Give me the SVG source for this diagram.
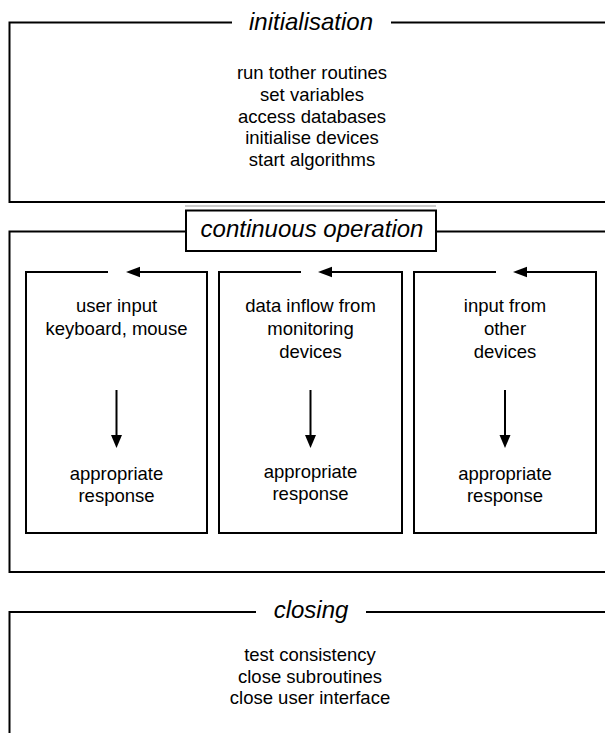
<svg xmlns="http://www.w3.org/2000/svg" width="605" height="733" viewBox="0 0 605 733">
<style>
  .frame { fill: none; stroke: #000; stroke-width: 2; }
  .title { font-family: "Liberation Sans", Arial, sans-serif; font-size: 24px; font-style: italic; fill: #000; text-anchor: middle; }
  .body { font-family: "Liberation Sans", Arial, sans-serif; font-size: 18.5px; fill: #000; text-anchor: middle; }
  .arrow { stroke: #000; stroke-width: 2; fill: none; }
  .head { fill: #000; stroke: none; }
</style>
<rect width="605" height="733" fill="#fff"/>

<g id="initialisation">
  <path class="frame" d="M232,22.5 H9.5 V202 H605"/>
  <path class="frame" d="M391,22.5 H605"/>
  <text class="title" x="311" y="30">initialisation</text>
  <text class="body" x="312" y="79">run tother routines</text>
  <text class="body" x="312" y="100.8">set variables</text>
  <text class="body" x="312" y="122.6">access databases</text>
  <text class="body" x="312" y="144.4">initialise devices</text>
  <text class="body" x="312" y="166.2">start algorithms</text>
</g>
<line x1="185" y1="206" x2="436" y2="206" stroke="#bbb" stroke-width="1.5"/>

<g id="continuous-operation">
  <path class="frame" d="M186,231.5 H9.5 V572 H605"/>
  <path class="frame" d="M436,231.5 H605"/>
  <rect class="frame" x="186" y="210.5" width="250" height="40.5" stroke-width="1.5"/>
  <text class="title" x="312" y="237">continuous operation</text>
</g>

<g id="user-input">
  <text class="body" x="116.5" y="312">user input</text>
  <text class="body" x="116.5" y="335">keyboard, mouse</text>
  <text class="body" x="116.5" y="480">appropriate</text>
  <text class="body" x="116.5" y="502">response</text>
</g>
<g id="data-inflow">
  <text class="body" x="310.5" y="312">data inflow from</text>
  <text class="body" x="310.5" y="335">monitoring</text>
  <text class="body" x="310.5" y="358">devices</text>
  <text class="body" x="310.5" y="478">appropriate</text>
  <text class="body" x="310.5" y="500">response</text>
</g>
<g id="other-devices">
  <text class="body" x="505" y="312">input from</text>
  <text class="body" x="505" y="335">other</text>
  <text class="body" x="505" y="358">devices</text>
  <text class="body" x="505" y="480">appropriate</text>
  <text class="body" x="505" y="502">response</text>
</g>

<g id="connectors">
  <path class="frame" d="M108,272 H26 V533 H207 V272 H139"/>
  <polygon class="head" points="126,272 140,266.7 140,277.3"/>
  <path class="frame" d="M301,272 H219 V533 H402 V272 H331"/>
  <polygon class="head" points="318,272 332,266.7 332,277.3"/>
  <path class="frame" d="M496,272 H414 V533 H596 V272 H526"/>
  <polygon class="head" points="513,272 527,266.7 527,277.3"/>
  <line class="arrow" x1="116.5" y1="390" x2="116.5" y2="436"/>
  <polygon class="head" points="111,435 122,435 116.5,448"/>
  <line class="arrow" x1="310.5" y1="390" x2="310.5" y2="436"/>
  <polygon class="head" points="305,435 316,435 310.5,448"/>
  <line class="arrow" x1="505" y1="390" x2="505" y2="436"/>
  <polygon class="head" points="499.5,435 510.5,435 505,448"/>
</g>

<g id="closing">
  <path class="frame" d="M256,612 H9.5 V733"/>
  <path class="frame" d="M366,612 H605"/>
  <text class="title" x="311" y="618">closing</text>
  <text class="body" x="310" y="661">test consistency</text>
  <text class="body" x="310" y="682.5">close subroutines</text>
  <text class="body" x="310" y="704">close user interface</text>
</g>
</svg>
